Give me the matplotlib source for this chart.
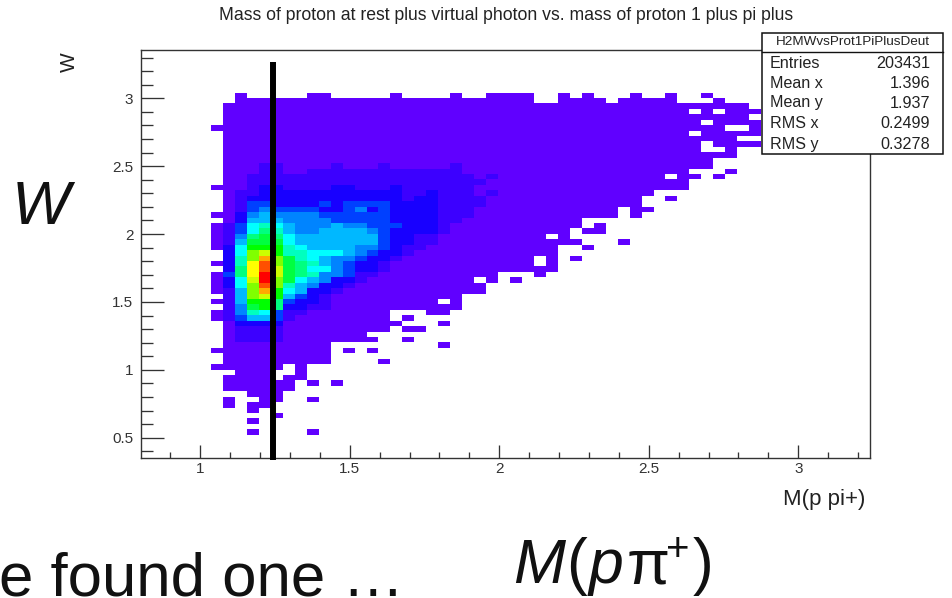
import numpy as np
import matplotlib
matplotlib.use("Agg")
import matplotlib.pyplot as plt
from matplotlib.colors import ListedColormap, BoundaryNorm
from matplotlib.patches import Rectangle
from matplotlib.lines import Line2D

plt.rcParams['font.family'] = ['Liberation Sans', 'DejaVu Sans']

# ---- histogram binning (column k, row j counted downward from W=3.0)
bin_width = 0.04
x_low = 0.796
y_top = 3.002
n_cols = 61
rows_first = -1
rows_last = 66

# ---- footprint of the populated bins: (row, first column, last column)
body_runs = [
 (-1,8,8),(-1,14,15),(-1,21,21),(-1,26,26),(-1,29,32),(-1,35,35),(-1,37,37),(-1,41,41),(-1,44,44),(-1,47,47),
 (0,8,32),(0,35,38),(0,40,44),(0,48,48),
 (1,7,50),
 (2,7,45),(2,47,47),(2,49,51),
 (3,7,50),
 (4,7,46),(4,48,51),
 (5,6,6),(5,7,48),(5,51,51),
 (6,7,45),(6,47,51),
 (7,7,49),
 (8,7,46),(8,48,51),
 (9,7,46),(9,49,49),
 (10,7,49),(11,7,47),(12,7,47),
 (13,7,45),(13,49,49),
 (14,7,43),(14,45,46),(14,48,48),
 (15,7,45),
 (16,6,45),
 (17,7,42),
 (18,7,41),(18,44,44),
 (19,7,41),
 (20,7,39),(20,41,42),
 (21,6,39),(21,41,41),
 (22,7,36),
 (23,6,36),(23,38,38),
 (24,6,35),(24,37,38),
 (25,6,33),(25,35,35),
 (26,6,36),(26,40,40),
 (27,6,34),(27,37,37),
 (28,7,34),
 (29,7,32),(29,34,34),(29,36,36),
 (30,6,32),(30,34,34),
 (31,7,34),
 (32,6,29),(32,33,33),
 (33,6,27),(33,29,29),(33,31,31),
 (34,6,28),(35,6,28),
 (36,7,26),
 (37,6,24),(37,26,26),
 (38,7,26),
 (39,6,20),(39,24,25),
 (40,6,20),(40,22,22),
 (41,7,21),(41,25,25),
 (42,7,20),(42,22,23),
 (43,7,18),
 (44,7,19),(44,22,22),
 (45,7,15),(45,25,25),
 (46,6,15),(46,17,17),(46,19,19),
 (47,7,15),
 (48,7,15),(48,20,20),
 (49,6,11),(49,13,13),
 (50,8,10),(50,13,13),
 (51,7,10),(51,12,13),
 (52,7,12),(52,14,14),(52,16,16),
 (53,7,12),
 (54,9,11),
 (55,7,7),(55,10,11),(55,14,14),
 (56,7,7),(56,9,10),
 (57,9,9),
 (58,11,11),
 (59,9,9),
 (61,9,9),(61,14,14),
]

# ---- colour levels of the dense region: (row, first column, levels)
core_rows = [
 (12,10,[2,2]),(12,16,[2]),(12,20,[2]),(12,26,[2]),
 (13,10,[2,2]),(13,14,[2]*13),
 (14,9,[2]*19),(14,29,[2]),
 (15,9,[2]*20),
 (16,9,[2,3,3,2,2,2,2,3,3,2,2,2,3,2,2,2,2,2,2]),
 (17,8,[2,2,3,3,3,3,3,3,3,3,3,3,3,3,2,2,3,2,2,2]),(17,29,[2]),
 (18,8,[2,3,3,3,3,3,3,3,3,3,3,3,3,3,2,3,3,2,2,2,2]),
 (19,8,[2,4,4,3,3,3,3,4,3,4,4,4,4,3,3,3,3,2,2,2,2]),
 (20,8,[2,4,5,4,4,4,4,3,3,4,5,3,4,3,3,3,3,2,2,2]),
 (21,8,[3,5,6,5,5,5,5,4,4,4,4,4,4,3,3,3,3,2,2,2]),
 (22,8,[3,6,6,6,5,5,5,5,4,4,4,4,4,3,3,3,3,2,2]),
 (23,7,[2,4,7,8,7,6,5,5,5,6,5,5,4,4,4,3,3,3,2]),
 (24,7,[2,4,7,9,8,6,5,5,6,6,6,6,5,4,3,3,3,3,2]),
 (25,7,[2,5,9,10,9,7,6,6,6,6,6,6,6,4,3,3,2,2]),
 (26,7,[2,6,10,10,10,7,6,6,6,6,6,6,6,4,3,3,2,2]),
 (27,7,[3,7,11,11,11,8,7,6,6,6,6,5,5,4,3,2,2]),
 (28,7,[3,7,12,13,11,8,8,7,7,7,6,5,4,3,3,2]),
 (29,7,[3,8,12,15,12,10,8,7,6,5,5,4,3,3,2]),
 (30,7,[3,8,14,16,12,10,9,8,6,5,4,3,3,2]),
 (31,7,[3,9,14,16,13,10,9,7,7,5,4,3,3,2]),
 (32,7,[4,9,14,17,13,10,9,8,5,5,4,2,2]),
 (33,7,[3,7,13,17,12,10,7,6,5,3,3,2]),
 (34,7,[3,7,12,16,12,8,6,5,3,3,2]),
 (35,7,[2,6,12,15,11,7,6,3,3,2]),
 (36,7,[2,6,12,13,11,6,4,3,2]),
 (37,7,[2,6,11,11,9,4,3,3,2]),
 (38,7,[2,5,10,11,9,3,3,2,2]),
 (39,7,[2,5,8,7,4,2,2]),
 (40,7,[2,4,6,6,4,2]),
 (41,8,[3,3,3,3]),
 (42,8,[2,2,2,2]),
 (43,8,[2,2,2,2]),
 (44,8,[2,2,2,2]),
]

# ---- colour of each level
level_colors = ['#6000FF','#3C00FF','#1800FF','#0040FF','#0084FF','#00B8FF','#00FFFF','#00FFBF',
                '#00FF80','#00FF40','#00FF00','#80FF00','#CCFF00','#FFFF00','#FFAA00','#FF5000','#FF0000']

# ---- text
title = "Mass of proton at rest plus virtual photon vs. mass of proton 1 plus pi plus"
x_label = "M(p pi+)"
y_label = "W"
stats_name = "H2MWvsProt1PiPlusDeut"
stats_labels = ["Entries", "Mean x", "Mean y", "RMS x", "RMS y"]
stats_values = ["203431", "1.396", "1.937", "0.2499", "0.3278"]
x_ticks = [1, 1.5, 2, 2.5, 3]
x_tick_labels = ["1", "1.5", "2", "2.5", "3"]
y_ticks = [0.5, 1, 1.5, 2, 2.5, 3]
y_tick_labels = ["0.5", "1", "1.5", "2", "2.5", "3"]
marker_x = 1.243
marker_y = (0.338, 3.27)

W, H = 952, 598
fig = plt.figure(figsize=(W/100, H/100), dpi=100)
ax = fig.add_axes([141/W, 1-457.5/H, (870-141)/W, (457.5-50)/H])

n_rows = rows_last - rows_first + 1
grid = np.zeros((n_rows, n_cols))
for j, k0, k1 in body_runs:
    grid[j-rows_first, k0:k1+1] = 1
for j, k0, levels in core_rows:
    for i, v in enumerate(levels):
        grid[j-rows_first, k0+i] = v

x_edges = x_low + bin_width*np.arange(n_cols+1)
y_edges = y_top - bin_width*(np.arange(n_rows+1)+rows_first)
cmap = ListedColormap(level_colors)
norm = BoundaryNorm(np.arange(0.5, len(level_colors)+1), cmap.N)
ax.pcolormesh(x_edges, y_edges, np.ma.masked_equal(grid, 0), cmap=cmap, norm=norm, linewidth=0, rasterized=True)

ax.set_xlim(0.8017, 3.24)
ax.set_ylim(0.354, 3.356)
ax.set_xticks(x_ticks, x_tick_labels)
ax.set_yticks(y_ticks, y_tick_labels)
ax.set_xticks(np.arange(0.9, 3.25, 0.1), minor=True)
ax.set_yticks(np.arange(0.4, 3.35, 0.1), minor=True)
tc = '#333333'
ax.tick_params(axis='x', which='major', direction='in', length=9.4, width=0.95, labelsize=11, pad=3, color=tc, labelcolor=tc)
ax.tick_params(axis='x', which='minor', direction='in', length=4.2, width=0.95, color=tc)
ax.tick_params(axis='y', which='major', direction='in', length=16.5, width=0.95, labelsize=11, pad=5.5, color=tc, labelcolor=tc)
ax.tick_params(axis='y', which='minor', direction='in', length=8.5, width=0.95, color=tc)
for s in ax.spines.values():
    s.set_linewidth(1.0)
    s.set_color(tc)

ax.plot([marker_x, marker_x], marker_y, color='black', lw=4.3, solid_capstyle='butt', zorder=5, clip_on=False)

def T(px, py, s, **kw):
    return fig.text(px/W, 1-py/H, s, **kw)

T(506, 15, title, ha='center', va='center', fontsize=12.7, color='#222222')
T(865, 499, x_label, ha='right', va='center', fontsize=16, color='#222222')
T(69, 62, y_label, ha='center', va='center', rotation=90, fontsize=15, color='#222222')

# stats box
fig.add_artist(Rectangle((761.5/W, 1-154/H), (943-761.5)/W, (154-32.5)/H, transform=fig.transFigure,
                         fc='white', ec='#111111', lw=1.1, zorder=6))
fig.add_artist(Line2D([761.5/W, 943/W], [1-52/H, 1-52/H], color='#111111', lw=1.0, zorder=7))
T(852.5, 42, stats_name, ha='center', va='center', fontsize=9.7, color='#222222', zorder=8)
for py, lab, val in zip([63, 83, 103, 124, 144], stats_labels, stats_values):
    T(770, py, lab, ha='left', va='center', fontsize=11.6, color='#222222', zorder=8)
    T(930, py, val, ha='right', va='center', fontsize=11.6, color='#222222', zorder=8)

# slide annotations
T(41, 208, "W", ha='center', va='center', fontsize=44.5, style='italic', color='#111111')
T(-1, 596, "e found one …", ha='left', va='baseline', fontsize=44.5, color='#111111')
big = dict(ha='left', va='baseline', color='#111111')
T(513, 583, "M", fontsize=45, style='italic', **big)
T(566, 583, "(", fontsize=45, **big)
T(589, 583, "p", fontsize=45, style='italic', **big)
T(627, 583, "π", fontsize=45, **big)
T(666, 561, "+", fontsize=29, **big)
T(693, 583, ")", fontsize=45, **big)

fig.savefig("out.png", dpi=100)
